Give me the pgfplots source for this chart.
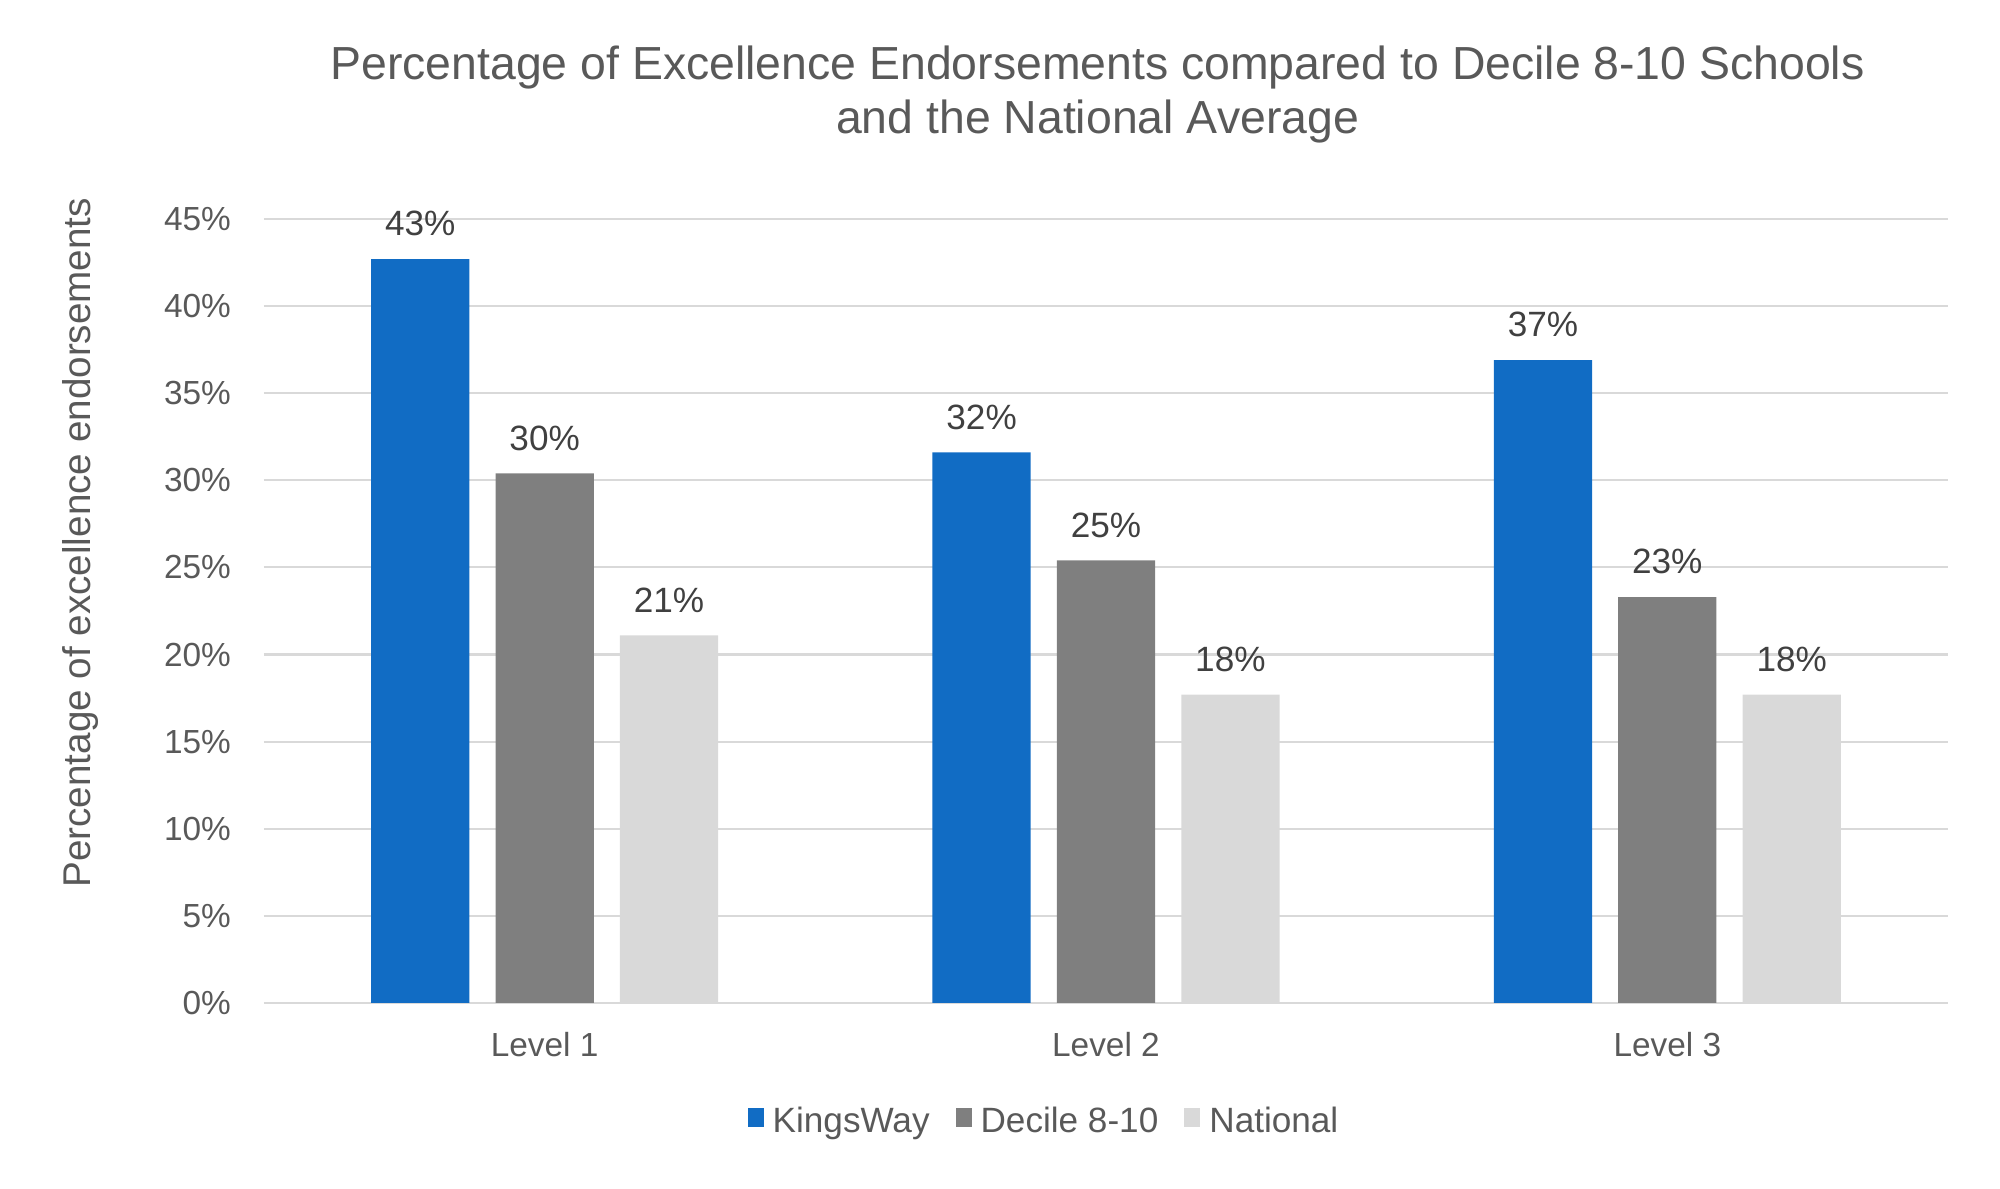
\documentclass[border=0pt]{standalone}
\usepackage{fontspec}
\setmainfont{Liberation Sans}
\usepackage{pgfplots}
\pgfplotsset{compat=1.18}

\definecolor{kwblue}{RGB}{17,108,196}
\definecolor{decgray}{RGB}{127,127,127}
\definecolor{natgray}{RGB}{217,217,217}
\definecolor{gridgray}{RGB}{217,217,217}
\definecolor{txtgray}{RGB}{89,89,89}
\definecolor{lblgray}{RGB}{64,64,64}

\begin{document}
\begin{tikzpicture}
\begin{axis}[
    name=ax,
    scale only axis,
    width=16.84cm, height=7.84cm,
    ybar,
    xmin=0.5, xmax=3.5,
    ymin=0, ymax=45,
    xtick={1,2,3},
    xticklabels={Level 1,Level 2,Level 3},
    ytick={0,5,...,45},
    yticklabel={\pgfmathprintnumber{\tick}\%},
    /pgf/number format/assume math mode=true,
    axis line style={draw=none},
    major tick length=0pt,
    ymajorgrids=true,
    grid style={color=gridgray, line width=0.6pt},
    xticklabel style={font=\fontsize{9.5}{11}\selectfont, color=txtgray, yshift=-4.8pt},
    yticklabel style={font=\fontsize{9.5}{11}\selectfont, color=txtgray, xshift=-5.9pt},
    title={Percentage of Excellence Endorsements compared to Decile 8-10 Schools\\and the National Average},
    title style={font=\fontsize{13.2}{15.4}\selectfont, color=txtgray, align=center,
        at={(axis description cs:0.495,1)}, anchor=base, yshift=0.64cm},
    ylabel={Percentage of excellence endorsements},
    ylabel style={font=\fontsize{11}{13}\selectfont, color=txtgray,
        at={(axis description cs:-0.1087,0.587)}, anchor=center},
    nodes near coords={\pgfmathprintnumber[fixed,precision=0]{\pgfplotspointmeta}\%},
    nodes near coords style={font=\fontsize{10}{12}\selectfont, color=lblgray, yshift=3pt},
    legend image code/.code={\fill[#1] (0cm,-0.05cm) rectangle (0.16cm,0.14cm);},
    legend style={at={(axis description cs:0.4626,-0.152)}, anchor=center,
        draw=none, fill=none, font=\fontsize{10}{12}\selectfont, text=txtgray,
        legend columns=3,
        nodes={inner sep=0pt},
        /tikz/every odd column/.append style={column sep=0.09cm},
        /tikz/every even column/.append style={column sep=0.26cm}},
]

\addplot[fill=kwblue, draw=none, bar width=0.175, bar shift=-0.2216] coordinates {
(1,42.7)
(2,31.6)
(3,36.9)
};

\addplot[fill=decgray, draw=none, bar width=0.175, bar shift=0] coordinates {
(1,30.4)
(2,25.4)
(3,23.3)
};

\addplot[fill=natgray, draw=none, bar width=0.175, bar shift=0.2216] coordinates {
(1,21.1)
(2,17.7)
(3,17.7)
};

\legend{KingsWay, Decile 8-10, National}
\end{axis}
\pgfresetboundingbox
\path ([xshift=-2.64cm,yshift=-1.86cm]ax.south west) rectangle ([xshift=0.52cm,yshift=2.19cm]ax.north east);
\end{tikzpicture}
\end{document}
